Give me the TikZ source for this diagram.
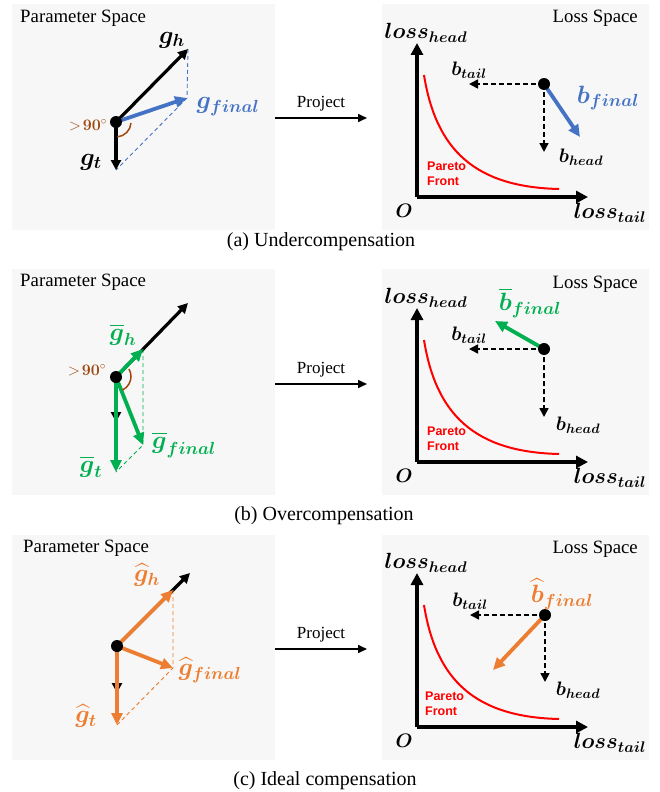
\RequirePackage{fix-cm}
\documentclass[tikz,border=0pt]{standalone}
\usepackage{amsmath}
\usepackage{bm}
\usepackage{fontspec}
\setmainfont{Liberation Serif}
\newfontfamily\sansarial{Liberation Sans}
\usetikzlibrary{arrows.meta}

\definecolor{colfond}{HTML}{F7F7F7}
\definecolor{colbleu}{HTML}{4472C4}
\definecolor{colvert}{HTML}{00B050}
\definecolor{colorange}{HTML}{ED7D31}
\definecolor{colbrun}{HTML}{9E480E}

\begin{document}
\begin{tikzpicture}[x=1pt,y=-1pt,
	vecteur/.style={line width=3.2pt,-{Triangle[length=10pt,width=10pt]}},
	grosvecteur/.style={line width=3.8pt,-{Triangle[length=12pt,width=11pt]}},
	projection/.style={line width=0.9pt,dash pattern=on 4pt off 3pt},
	composante/.style={line width=1.6pt,dash pattern=on 5pt off 3pt,-{Triangle[length=9pt,width=9pt]}},
	axe/.style={line width=4pt,-{Triangle[length=12pt,width=12pt]}},
	titre/.style={inner sep=0pt,font=\fontsize{18.8}{22}\selectfont},
	legende/.style={inner sep=0pt,font=\fontsize{20}{24}\selectfont},
	axelab/.style={inner sep=0pt,font=\fontsize{22}{26}\selectfont},
	grandlab/.style={inner sep=0pt,font=\fontsize{25}{30}\selectfont},
	petitlab/.style={inner sep=0pt,font=\fontsize{19.5}{23}\selectfont},
	angle/.style={inner sep=0pt,text=colbrun,font=\fontsize{16}{18}\selectfont}]

\useasboundingbox (0,0) rectangle (660,792);

\def\rpoint{6}

%%% (a) Sous-compensation %%%
\begin{scope}[shift={(0,0)}]
	%Fonds
	\fill[colfond] (12,4) rectangle (275,230);
	\fill[colfond] (382,4) rectangle (649,230);
	\node[titre, anchor=base west] (param_a) at (20,23) {Parameter Space};
	\node[titre, anchor=base east] (loss_a) at (638,23) {Loss Space};

	%Espace des parametres
	\coordinate (oa) at (116,122);
	\coordinate (gha) at (188,49);
	\coordinate (gta) at (116,170);
	\coordinate (gfa) at (187,98);
	\draw[projection, colbleu] (gha) -- (gfa) -- (gta);
	\draw[vecteur] (oa) -- (gha);
	\draw[vecteur] (oa) -- (gta);
	\draw[grosvecteur, colbleu] (oa) -- (gfa);
	\draw[colbrun, line width=1.5pt] (oa) ++(15,1) arc (4:85:15);
	\fill (oa) circle (\rpoint);
	\node[grandlab] (lab_gha) at (172,40) {$\bm{g}_{\bm{h}}$};
	\node[grandlab, text=colbleu] (lab_gfa) at (228,107) {$\bm{g}_{\bm{final}}$};
	\node[grandlab] (lab_gta) at (91,162) {$\bm{g}_{\bm{t}}$};
	\node[angle] (ang_a) at (88,125) {$>\!\bm{90}^{\circ}$};

	%Projection
	\coordinate (pga) at (275,118);
	\coordinate (pda) at (367,118);
	\draw[line width=1.6pt, -{Triangle[length=9pt,width=8pt]}] (pga) -- (pda) node[midway, above=6pt, legende, font=\fontsize{17}{20}\selectfont] (proj_a) {Project};

	%Espace des pertes
	\coordinate (origa) at (417,197);
	\draw[axe] (origa) -- (417,43);
	\draw[axe] (origa) -- (588,197);
	\node[axelab] (lh_a) at (426,33) {$\bm{loss}_{\bm{head}}$};
	\node[axelab] (lt_a) at (610,213) {$\bm{loss}_{\bm{tail}}$};
	\node[petitlab] (o_a) at (404,211) {$\bm{O}$};
	\draw[red, line width=2pt] (424,75) .. controls (436,150) and (475,187) .. (559,189);
	\node[inner sep=0pt, anchor=north west, align=left, text=red, font=\sansarial\bfseries\fontsize{12.5}{15}\selectfont] (pareto_a) at (427,162) {Pareto\\Front};
	\coordinate (ba) at (544,84);
	\draw[composante] (ba) -- (469,84);
	\draw[composante] (ba) -- (544,152);
	\draw[grosvecteur, colbleu] (ba) -- (580,137);
	\fill (ba) circle (\rpoint);
	\node[petitlab] (bt_a) at (469,70) {$\bm{b}_{\bm{tail}}$};
	\node[petitlab] (bh_a) at (581,157) {$\bm{b}_{\bm{head}}$};
	\node[grandlab, text=colbleu] (bf_a) at (608,98) {$\bm{b}_{\bm{final}}$};
\end{scope}
\node[legende] (cap_a) at (321,242) {(a) Undercompensation};

%%% (b) Sur-compensation %%%
\begin{scope}[shift={(0,265)}]
	%Fonds
	\fill[colfond] (12,4) rectangle (275,230);
	\fill[colfond] (382,4) rectangle (649,230);
	\node[titre, anchor=base west] (param_b) at (20,21) {Parameter Space};
	\node[titre, anchor=base east] (loss_b) at (638,23) {Loss Space};

	%Espace des parametres
	\coordinate (ob) at (116,112);
	\coordinate (ghb) at (143,84);
	\coordinate (gtb) at (116,207);
	\coordinate (gfb) at (143,180);
	\draw[vecteur] (ob) -- (188,38);
	\draw[vecteur] (ob) -- (116,157);
	\draw[projection, colvert] (ghb) -- (gfb) -- (gtb);
	\draw[grosvecteur, colvert] (ob) -- (ghb);
	\draw[grosvecteur, colvert] (ob) -- (gtb);
	\draw[grosvecteur, colvert] (ob) -- (gfb);
	\draw[colbrun, line width=1.5pt] (ob) ++(13,-8) arc (-30:65:15);
	\fill (ob) circle (\rpoint);
	\node[grandlab, text=colvert] (lab_ghb) at (123,70) {$\overline{\bm{g}}_{\bm{h}}$};
	\node[grandlab, text=colvert] (lab_gfb) at (184,180) {$\overline{\bm{g}}_{\bm{final}}$};
	\node[grandlab, text=colvert] (lab_gtb) at (91,202) {$\overline{\bm{g}}_{\bm{t}}$};
	\node[angle] (ang_b) at (87,105) {$>\!\bm{90}^{\circ}$};

	%Projection
	\coordinate (pgb) at (275,119);
	\coordinate (pdb) at (367,119);
	\draw[line width=1.6pt, -{Triangle[length=9pt,width=8pt]}] (pgb) -- (pdb) node[midway, above=6pt, legende, font=\fontsize{17}{20}\selectfont] (proj_b) {Project};

	%Espace des pertes
	\coordinate (origb) at (417,197);
	\draw[axe] (origb) -- (417,43);
	\draw[axe] (origb) -- (588,197);
	\node[axelab] (lh_b) at (426,33) {$\bm{loss}_{\bm{head}}$};
	\node[axelab] (lt_b) at (610,213) {$\bm{loss}_{\bm{tail}}$};
	\node[petitlab] (o_b) at (404,211) {$\bm{O}$};
	\draw[red, line width=2pt] (424,75) .. controls (436,150) and (475,187) .. (559,189);
	\node[inner sep=0pt, anchor=north west, align=left, text=red, font=\sansarial\bfseries\fontsize{12.5}{15}\selectfont] (pareto_b) at (427,162) {Pareto\\Front};
	\coordinate (bb) at (544,84);
	\draw[composante] (bb) -- (469,84);
	\draw[composante] (bb) -- (544,152);
	\draw[grosvecteur, colvert] (bb) -- (495,56);
	\fill (bb) circle (\rpoint);
	\node[petitlab] (bt_b) at (469,70) {$\bm{b}_{\bm{tail}}$};
	\node[petitlab] (bh_b) at (578,160) {$\bm{b}_{\bm{head}}$};
	\node[grandlab, text=colvert] (bf_b) at (530,38) {$\overline{\bm{b}}_{\bm{final}}$};
\end{scope}
\node[legende] (cap_b) at (324,516) {(b) Overcompensation};

%%% (c) Compensation ideale %%%
\begin{scope}[shift={(0,530)}]
	%Fonds
	\fill[colfond] (12,5) rectangle (275,230);
	\fill[colfond] (382,5) rectangle (649,230);
	\node[titre, anchor=base west] (param_c) at (23,22) {Parameter Space};
	\node[titre, anchor=base east] (loss_c) at (638,23) {Loss Space};

	%Espace des parametres
	\coordinate (oc) at (117,116);
	\coordinate (ghc) at (173,60);
	\coordinate (gtc) at (117,195);
	\coordinate (gfc) at (173,138);
	\draw[vecteur] (oc) -- (190,43);
	\draw[vecteur] (oc) -- (117,163);
	\draw[projection, colorange] (ghc) -- (gfc) -- (gtc);
	\draw[grosvecteur, colorange] (oc) -- (ghc);
	\draw[grosvecteur, colorange] (oc) -- (gtc);
	\draw[grosvecteur, colorange] (oc) -- (gfc);
	\fill (oc) circle (\rpoint);
	\node[grandlab, text=colorange] (lab_ghc) at (147,45) {$\widehat{\bm{g}}_{\bm{h}}$};
	\node[grandlab, text=colorange] (lab_gfc) at (210,140) {$\widehat{\bm{g}}_{\bm{final}}$};
	\node[grandlab, text=colorange] (lab_gtc) at (86,186) {$\widehat{\bm{g}}_{\bm{t}}$};

	%Projection
	\coordinate (pgc) at (275,119);
	\coordinate (pdc) at (367,119);
	\draw[line width=1.6pt, -{Triangle[length=9pt,width=8pt]}] (pgc) -- (pdc) node[midway, above=6pt, legende, font=\fontsize{17}{20}\selectfont] (proj_c) {Project};

	%Espace des pertes
	\coordinate (origc) at (417,197);
	\draw[axe] (origc) -- (417,43);
	\draw[axe] (origc) -- (588,197);
	\node[axelab] (lh_c) at (426,33) {$\bm{loss}_{\bm{head}}$};
	\node[axelab] (lt_c) at (610,213) {$\bm{loss}_{\bm{tail}}$};
	\node[petitlab] (o_c) at (404,211) {$\bm{O}$};
	\draw[red, line width=2pt] (424,75) .. controls (436,150) and (475,187) .. (559,189);
	\node[inner sep=0pt, anchor=north west, align=left, text=red, font=\sansarial\bfseries\fontsize{12.5}{15}\selectfont] (pareto_c) at (425,162) {Pareto\\Front};
	\coordinate (bc) at (545,85);
	\draw[composante] (bc) -- (470,85);
	\draw[composante] (bc) -- (545,152);
	\draw[grosvecteur, colorange] (bc) -- (493,140);
	\fill (bc) circle (\rpoint);
	\node[petitlab] (bt_c) at (470,71) {$\bm{b}_{\bm{tail}}$};
	\node[petitlab] (bh_c) at (578,160) {$\bm{b}_{\bm{head}}$};
	\node[grandlab, text=colorange] (bf_c) at (562,64) {$\widehat{\bm{b}}_{\bm{final}}$};
\end{scope}
\node[legende] (cap_c) at (325,781) {(c) Ideal compensation};

\end{tikzpicture}
\end{document}
